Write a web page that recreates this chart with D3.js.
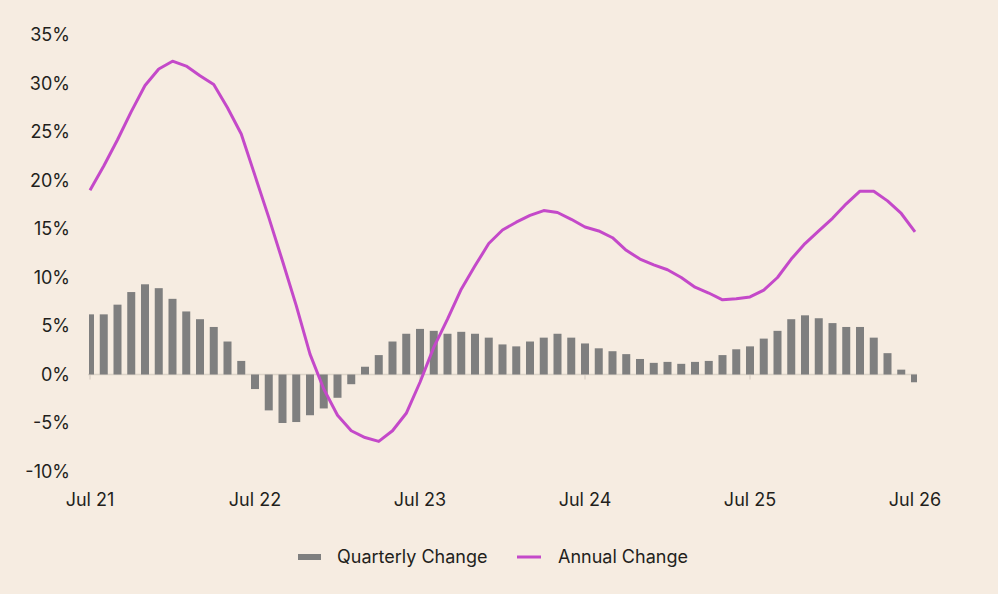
<!DOCTYPE html>
<html lang="en">
<head>
    <meta charset="UTF-8">
    <title>Quarterly and Annual Change</title>
    <script src="https://cdn.jsdelivr.net/npm/d3@7"></script>
    <style>
        html, body{
            margin: 0;
            padding: 0;
            background-color: #f6ece1;
        }
        body{
            font-family: Inter, "Open Sans", sans-serif;
        }
        svg{
            display: block;
        }
        .tick-label{
            fill: #231f1c;
            font-size: 18px;
        }
        .bar{
            fill: #7f7f7f;
        }
        .annual{
            stroke: #c449c9;
            stroke-width: 3px;
            fill: none;
            stroke-linejoin: round;
        }
        .zero{
            stroke: #dcd3c8;
            stroke-width: 1.5px;
        }
    </style>
</head>
<body>
    <script>
        // months Jul 21 .. Jul 26
        const months = d3.range(61).map(i => new Date(2021, 6 + i, 1));

        // quarterly change, %
        const quarterly = [
            6.2, 6.2, 7.2, 8.5, 9.3, 8.9, 7.8, 6.5, 5.7, 4.9,
            3.4, 1.4, -1.5, -3.7, -5.0, -4.9, -4.2, -3.5, -2.4, -1.0,
            0.8, 2.0, 3.4, 4.2, 4.7, 4.5, 4.2, 4.4, 4.2, 3.8,
            3.1, 2.9, 3.4, 3.8, 4.2, 3.8, 3.2, 2.7, 2.4, 2.1,
            1.6, 1.2, 1.3, 1.1, 1.3, 1.4, 2.0, 2.6, 2.9, 3.7,
            4.5, 5.7, 6.1, 5.8, 5.3, 4.9, 4.9, 3.8, 2.2, 0.5,
            -0.8
        ];

        // annual change, %
        const annual = [
            19.0, 21.5, 24.2, 27.1, 29.8, 31.5, 32.3, 31.8, 30.8, 29.9,
            27.5, 24.8, 20.5, 16.2, 11.7, 7.1, 2.1, -1.5, -4.2, -5.8,
            -6.5, -6.9, -5.8, -4.0, -0.8, 2.8, 5.7, 8.8, 11.2, 13.5,
            14.9, 15.7, 16.4, 16.9, 16.7, 16.0, 15.2, 14.8, 14.1, 12.8,
            11.9, 11.3, 10.8, 10.0, 9.0, 8.4, 7.7, 7.8, 8.0, 8.7,
            10.0, 11.9, 13.5, 14.8, 16.1, 17.6, 18.9, 18.9, 17.9, 16.6,
            14.7
        ];

        const yTicks = [-10, -5, 0, 5, 10, 15, 20, 25, 30, 35];
        const xTickIdx = [0, 12, 24, 36, 48, 60];
        const fmtMonth = d3.timeFormat("Jul %y");

        const data = months.map((d, i) => ({date: d, q: quarterly[i], a: annual[i]}));

        const width = 998, height = 594;
        const svg = d3.select("body").append("svg")
            .attr("width", width)
            .attr("height", height);

        const xScale = d3.scalePoint()
            .domain(d3.range(months.length))
            .range([90, 915]);
        const yScale = d3.scaleLinear()
            .domain([-10, 35])
            .range([471.5, 35]);

        // clip so the end bars are cut at the plot edge
        svg.append("clipPath").attr("id", "plotclip")
            .append("rect")
            .attr("x", 89).attr("y", 0)
            .attr("width", 828).attr("height", height);

        // zero line with year ticks
        svg.append("line").attr("class", "zero")
            .attr("x1", 88).attr("x2", 917)
            .attr("y1", yScale(0)).attr("y2", yScale(0));
        svg.selectAll(".ytick-mark")
            .data(xTickIdx)
            .enter().append("line")
            .attr("class", "zero")
            .attr("x1", d => xScale(d)).attr("x2", d => xScale(d))
            .attr("y1", yScale(0)).attr("y2", yScale(0) + 5);

        // bars
        const barW = 8;
        svg.append("g").attr("clip-path", "url(#plotclip)")
            .selectAll("rect")
            .data(data)
            .enter().append("rect")
            .attr("class", "bar")
            .attr("x", (d, i) => xScale(i) - barW / 2)
            .attr("width", barW)
            .attr("y", d => yScale(Math.max(0, d.q)))
            .attr("height", d => Math.abs(yScale(d.q) - yScale(0)));

        // annual line
        const line = d3.line()
            .x((d, i) => xScale(i))
            .y(d => yScale(d.a));
        svg.append("path")
            .datum(data)
            .attr("class", "annual")
            .attr("d", line);

        // y axis labels
        svg.selectAll(".ylab")
            .data(yTicks)
            .enter().append("text")
            .attr("class", "tick-label")
            .attr("x", 70)
            .attr("y", d => yScale(d))
            .attr("dy", "0.36em")
            .attr("text-anchor", "end")
            .text(d => d + "%");

        // x axis labels
        svg.selectAll(".xlab")
            .data(xTickIdx)
            .enter().append("text")
            .attr("class", "tick-label")
            .attr("x", d => xScale(d))
            .attr("y", 506)
            .attr("text-anchor", "middle")
            .text(d => fmtMonth(months[d]));

        // legend
        const legend = svg.append("g").attr("transform", "translate(0,557)");
        legend.append("rect")
            .attr("x", 298).attr("y", -3)
            .attr("width", 23).attr("height", 6)
            .attr("fill", "#7f7f7f");
        legend.append("text")
            .attr("class", "tick-label")
            .attr("x", 337).attr("dy", "0.36em")
            .text("Quarterly Change");
        legend.append("line")
            .attr("x1", 517).attr("x2", 541)
            .attr("stroke", "#c449c9").attr("stroke-width", 3);
        legend.append("text")
            .attr("class", "tick-label")
            .attr("x", 558).attr("dy", "0.36em")
            .text("Annual Change");
    </script>
</body>
</html>
